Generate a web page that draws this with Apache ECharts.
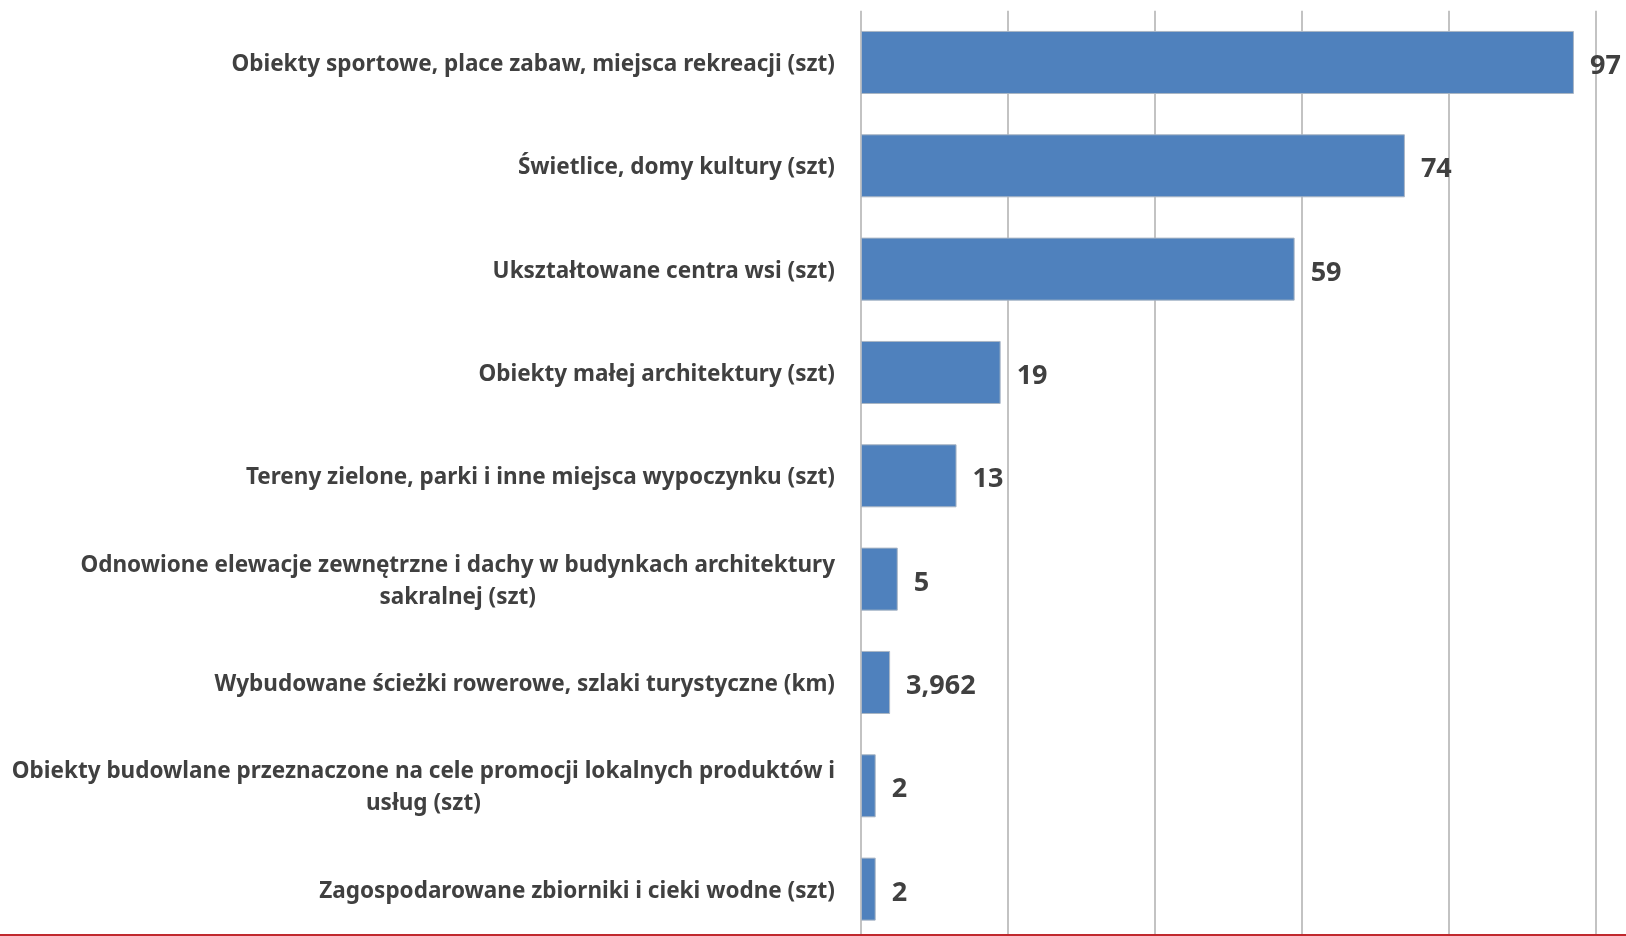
<!DOCTYPE html>
<html>
<head>
<meta charset="utf-8">
<script src="https://cdn.jsdelivr.net/npm/echarts@6/dist/echarts.min.js"></script>
<style>
html,body{margin:0;padding:0;background:#fff;}
#chart{width:1626px;height:936px;}
</style>
</head>
<body>
<div id="chart"></div>
<script>
const categories = [
  "Obiekty sportowe, place zabaw, miejsca rekreacji (szt)",
  "Świetlice, domy kultury (szt)",
  "Ukształtowane centra wsi (szt)",
  "Obiekty małej architektury (szt)",
  "Tereny zielone, parki i inne miejsca wypoczynku (szt)",
  "Odnowione elewacje zewnętrzne i dachy w budynkach architektury\nsakralnej (szt)",
  "Wybudowane ścieżki rowerowe, szlaki turystyczne (km)",
  "Obiekty budowlane przeznaczone na cele promocji lokalnych produktów i\nusług (szt)",
  "Zagospodarowane zbiorniki i cieki wodne (szt)"
];
const values = [97, 74, 59, 19, 13, 5, 3.962, 2, 2];
const valueLabels = ["97", "74", "59", "19", "13", "5", "3,962", "2", "2"];

const chart = echarts.init(document.getElementById('chart'), null, {renderer: 'canvas'});
chart.setOption({
  animation: false,
  backgroundColor: '#ffffff',
  grid: {left: 861, top: 10.8, width: 735, height: 930, containLabel: false, outerBoundsMode: 'none'},
  xAxis: {
    type: 'value', min: 0, max: 100, interval: 20,
    axisLabel: {show: false}, axisTick: {show: false}, axisLine: {show: false},
    splitLine: {show: true, lineStyle: {color: '#c3c3c3', width: 2}}
  },
  yAxis: {
    type: 'category', data: categories, inverse: true,
    axisTick: {show: false},
    axisLine: {show: false},
    axisLabel: {
      margin: 26,
      formatter: v => '{c|' + v + '}',
      rich: {c: {align: 'center', fontFamily: 'Noto Sans', fontWeight: 'bold', fontSize: 22.5, color: '#404040', lineHeight: 32, padding: [4, 0, 0, 0]}}
    }
  },
  series: [{
    type: 'bar', data: values, barWidth: '61%',
    itemStyle: {color: '#4f81bd', borderColor: '#a9b5c4', borderWidth: 1},
    label: {
      show: true, position: 'right', distance: 16, offset: [0, 4],
      formatter: p => valueLabels[p.dataIndex],
      fontFamily: 'Noto Sans', fontWeight: 'bold', fontSize: 27, color: '#404040'
    }
  }],
  graphic: [{
    type: 'rect', shape: {x: 0, y: 934, width: 1626, height: 2},
    style: {fill: '#c0282d'}, z: 100
  }]
});
</script>
</body>
</html>
